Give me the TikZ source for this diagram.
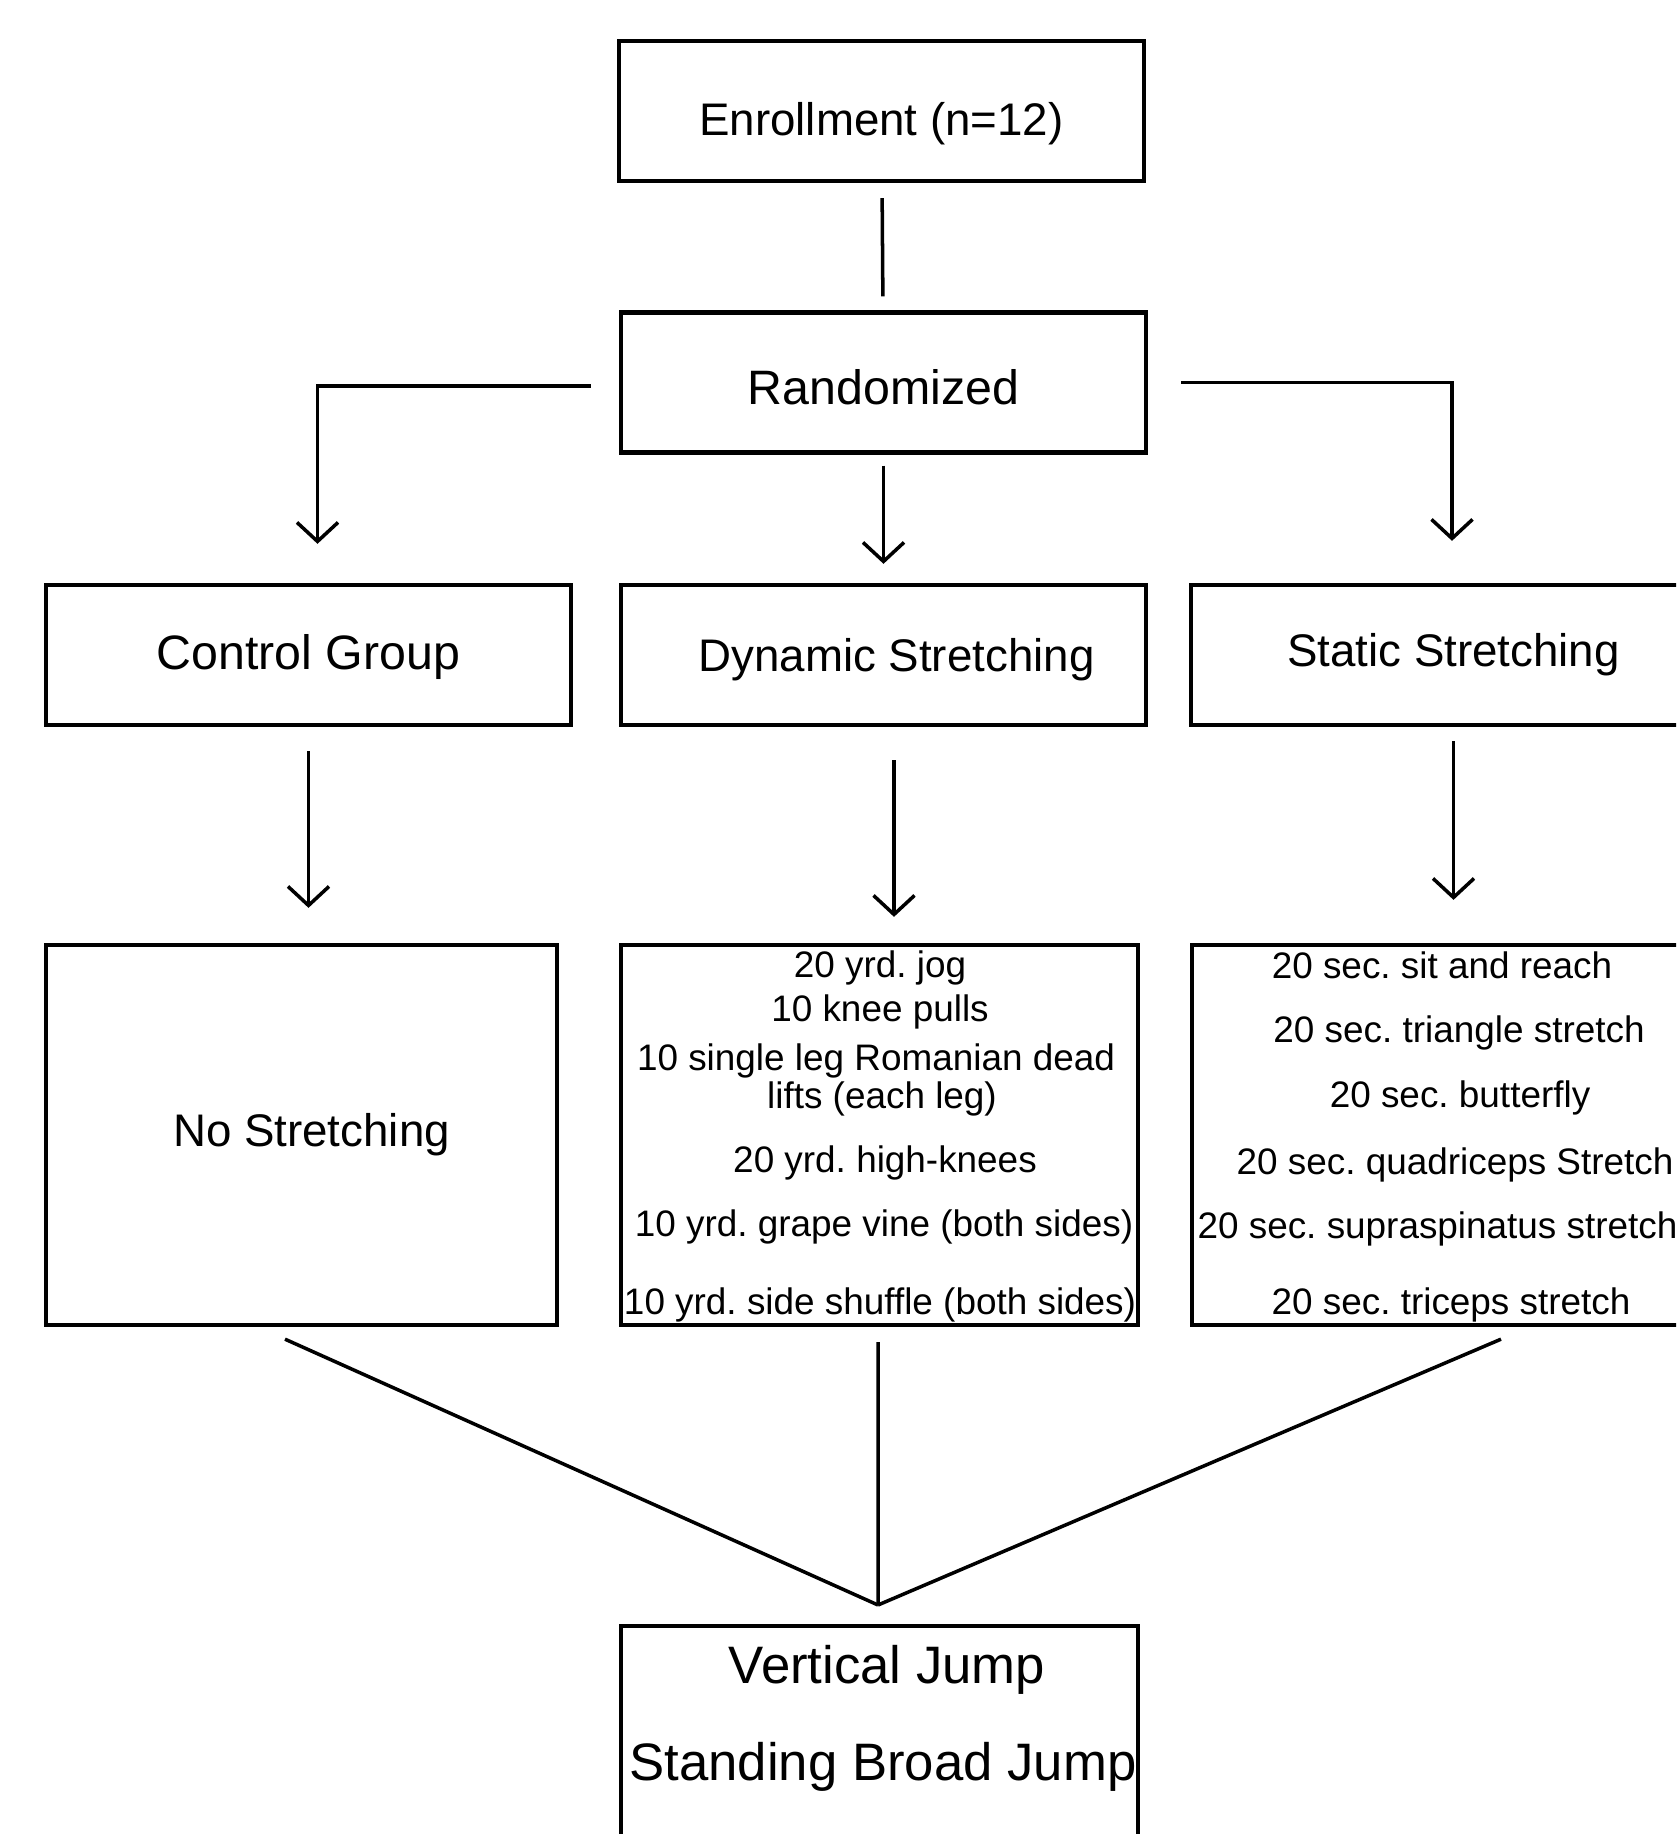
\documentclass[tikz,border=0pt]{standalone}
\usepackage{fontspec}
\setmainfont{Liberation Sans}
\usetikzlibrary{arrows.meta}
\frenchspacing

\newcommand{\headfont}{\fontsize{26}{31}\selectfont}
\newcommand{\bigheadfont}{\fontsize{27.5}{33}\selectfont}
\newcommand{\listfont}{\fontsize{21}{25}\selectfont}
\newcommand{\jumpfont}{\fontsize{30}{36}\selectfont}

\tikzset{
  box/.style={draw,line width=2.5pt,minimum width=10.5cm,minimum height=2.8cm,inner sep=0pt},
  head/.style={inner sep=0pt,font=\headfont},
  line/.style={line width=2pt},
  arr/.style={line width=2pt,-{Straight Barb[length=0.38cm,width=0.82cm]}},
  item/.style={anchor=base,inner sep=0pt,font=\listfont},
}

\begin{document}
\begin{tikzpicture}[x=0.02cm,y=-0.02cm]
    \useasboundingbox (0,0) rectangle (1676,1834);
    \clip (0,0) rectangle (1676,1834);

    % Draw boxes
    \node[box] (enroll) at (881.5,111) {};
    \node[box] (rand) at (883.5,382.5) {};
    \node[box] (ctrl) at (308.5,655) {};
    \node[box] (dyn) at (883.5,655) {};
    \node[box] (stat) at (1453.5,655) {};
    \node[box,minimum width=10.22cm,minimum height=7.6cm] (nostr) at (301.5,1135) {};
    \node[box,minimum width=10.34cm,minimum height=7.6cm] (dynlist) at (879.5,1135) {};
    \node[box,minimum width=10.34cm,minimum height=7.6cm] (statlist) at (1450.5,1135) {};
    \node[box,minimum width=10.34cm,minimum height=7.6cm] (jump) at (879.5,1816) {};

    % Box titles
    \node[head] (enrolltxt) at (881.5,124) {Enrollment (n=12)};
    \node[head,font=\bigheadfont] (randtxt) at (883.5,387.5) {Randomized};
    \node[head,font=\bigheadfont] (ctrltxt) at (308.5,657) {Control Group};
    \node[head] (dyntxt) at (896.5,660) {Dynamic Stretching};
    \node[head] (stattxt) at (1453.5,655) {Static Stretching};
    \node[head] (nostrtxt) at (311.5,1135) {No Stretching};

    % Dynamic stretching items
    \node[item] (d1) at (880,977) {20 yrd. jog};
    \node[item] (d2) at (880,1021) {10 knee pulls};
    \node[item] (d3) at (876,1070) {10 single leg Romanian dead};
    \node[item] (d4) at (882,1108) {lifts (each leg)};
    \node[item] (d5) at (885,1172) {20 yrd. high-knees};
    \node[item] (d6) at (884,1236) {10 yrd. grape vine (both sides)};
    \node[item] (d7) at (880,1314) {10 yrd. side shuffle (both sides)};

    % Static stretching items
    \node[item] (s1) at (1442,978) {20 sec. sit and reach};
    \node[item] (s2) at (1459,1042) {20 sec. triangle stretch};
    \node[item] (s3) at (1460,1107) {20 sec. butterfly};
    \node[item] (s4) at (1455,1174) {20 sec. quadriceps Stretch};
    \node[item] (s5) at (1457,1238) {20 sec. supraspinatus stretches};
    \node[item] (s6) at (1451,1314) {20 sec. triceps stretch};

    % Outcome measures
    \node[anchor=base,inner sep=0pt,font=\jumpfont] (vj) at (887,1683) {Vertical Jump};
    \node[anchor=base,inner sep=0pt,font=\jumpfont] (sbj) at (883,1780) {Standing Broad Jump};

    % Draw connectors
    \draw[line,shorten <=0.3cm,shorten >=0.28cm] (enroll) -- (rand);
    \draw[arr] ([xshift=-0.56cm,yshift=-0.07cm]rand.west) -| ([xshift=0.18cm,yshift=0.78cm]ctrl.north);
    \draw[arr] ([yshift=-0.22cm]rand.south) -- ([yshift=0.38cm]dyn.north);
    \draw[arr] ([xshift=0.66cm]rand.east) -| ([xshift=-0.03cm,yshift=0.84cm]stat.north);
    \draw[arr] ([yshift=-0.48cm]ctrl.south) -- ([yshift=0.7cm]ctrl.south |- nostr.north);
    \draw[arr] ([xshift=0.21cm,yshift=-0.66cm]dyn.south) -- ([xshift=0.21cm,yshift=0.52cm]dyn.south |- dynlist.north);
    \draw[arr] ([yshift=-0.28cm]stat.south) -- ([yshift=0.86cm]stat.south |- statlist.north);

    % Lines to outcome
    \coordinate (meet) at (878,1605);
    \draw[line] ([xshift=-0.33cm,yshift=-0.24cm]nostr.south) -- (meet);
    \draw[line] ([xshift=-0.03cm,yshift=-0.3cm]dynlist.south) -- (meet);
    \draw[line] ([xshift=1.01cm,yshift=-0.24cm]statlist.south) -- (meet);
\end{tikzpicture}
\end{document}
